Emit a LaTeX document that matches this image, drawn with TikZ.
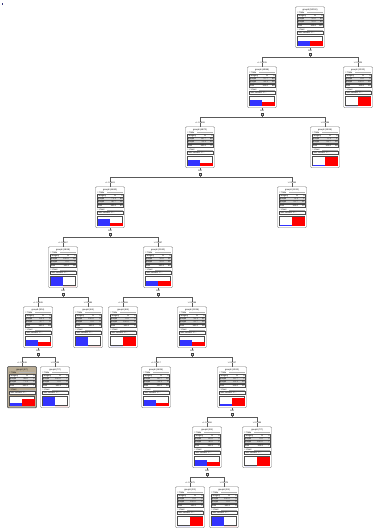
\documentclass[tikz,border=0pt]{standalone}
\usepackage{amssymb}
\usepackage{fontspec}
\setmainfont{Liberation Sans}
\usetikzlibrary{positioning}

\definecolor{barblue}{RGB}{51,51,255}
\definecolor{barred}{RGB}{255,0,0}
\definecolor{selfill}{RGB}{185,172,148}
\definecolor{rowgray}{RGB}{215,215,215}
\definecolor{framegray}{RGB}{120,120,120}

\tikzset{
  tbox/.style={draw=framegray, line width=1.1pt, rounded corners=3pt, fill=white,
    minimum width=2.9cm, minimum height=4.1cm, inner sep=0pt},
  ttext/.style={font=\fontsize{6}{6.5}\selectfont, inner sep=0pt},
  cellrow/.style={draw=gray!60!black, line width=0.4pt},
  icon/.style={draw=gray!50!black, fill=gray!35, minimum size=0.22cm, inner sep=0pt, line width=0.3pt},
  link/.style={draw=gray!70!black, line width=0.5pt},
  elabel/.style={ttext, fill=white, inner sep=0.4pt},
}

% tree node: [fill]{name}{x}{top}{title}{% blue}{n blue}{n red}{n}
\newcommand{\tnode}[9][white]{%
  \node[tbox, fill=#1, anchor=north] (#2) at (#3,#4) {};
  \begin{scope}[shift={(#3,#4)}]
    \pgfmathsetmacro\tnRp{100-#6}
    \pgfmathsetmacro\tnBh{9*#6/100}
    \pgfmathsetmacro\tnRh{9*\tnRp/100}
    \node[ttext] at (0,3) {#5};
    % --- table ---
    \node[ttext, anchor=west] at (-13,6) {$\triangledown$ Table};
    \draw[gray!60, line width=0.3pt] (-3,6) -- (13,6);
    \draw[cellrow, fill=white] (-13,8) rectangle (13,11);
    \draw[cellrow, fill=rowgray] (-13,11) rectangle (13,14);
    \draw[cellrow, fill=rowgray] (-13,14) rectangle (13,17);
    \draw[cellrow, fill=white] (-13,17.5) rectangle (13,20.5);
    \node[ttext, anchor=west] at (-12.5,9.5) {Category};
    \node[ttext, anchor=east] at (6,9.5) {\%};
    \node[ttext, anchor=east] at (12.5,9.5) {n};
    \node[ttext, anchor=west] at (-12.5,12.5) {group8};
    \node[ttext, anchor=east] at (6,12.5) {\pgfmathprintnumber[fixed,fixed zerofill,precision=1]{#6}};
    \node[ttext, anchor=east] at (12.5,12.5) {#7};
    \node[ttext, anchor=west] at (-12.5,15.5) {group9};
    \node[ttext, anchor=east] at (6,15.5) {\pgfmathprintnumber[fixed,fixed zerofill,precision=1]{\tnRp}};
    \node[ttext, anchor=east] at (12.5,15.5) {#8};
    \node[ttext, anchor=west] at (-12.5,19) {Total};
    \node[ttext, anchor=east] at (6,19) {100.0};
    \node[ttext, anchor=east] at (12.5,19) {#9};
    % --- chart ---
    \node[ttext, anchor=west] at (-13,23.3) {$\triangledown$ Chart};
    \draw[gray!60, line width=0.3pt] (-3,23.3) -- (13,23.3);
    \draw[cellrow, fill=white] (-13,25) rectangle (13,28);
    \node[ttext, anchor=west] at (-12.5,26.5) {Color column: C...};
    \draw[cellrow, line width=0.6pt, fill=white] (-12.5,29.5) rectangle (12.5,39);
    \fill[barblue] (-12.5,39) rectangle (0,39-\tnBh);
    \fill[barred] (0,39) rectangle (12.5,39-\tnRh);
  \end{scope}}

% split attribute under a node
\newcommand{\tsplit}[2]{%
  \node[ttext, below=0.25cm of #1] (#1-var) {#2};
  \node[icon, below=0.08cm of #1-var] (#1-ic) {};
  \draw[link] (#1.south) -- (#1-var.north);}

% connector parent -> child with condition
\newcommand{\tedge}[3]{%
  \draw[link] (#1-ic.south) -- ++(0,2.3) -| (#2.north);
  \node[elabel, above=0.3cm of #2] (#2-lab) {#3};}

\begin{document}
\begin{tikzpicture}[x=0.1cm, y=-0.1cm]
  \useasboundingbox (0,0) rectangle (373,529);

  % --- stray mark top left ---
  \fill[gray!60!blue!70!black] (2,2.7) rectangle (3.3,5.3);

  % --- nodes, level by level ---
  \tnode{n0}{310}{6.5}{group8 (50/100)}{50.0}{50}{50}{100}

  \tnode{n1}{262}{66.5}{group8 (49/88)}{55.7}{49}{39}{88}
  \tnode{n2}{358}{66.5}{group9 (12/12)}{0.0}{0}{12}{12}

  \tnode{n3}{200}{126.5}{group8 (48/72)}{66.7}{48}{24}{72}
  \tnode{n4}{325}{126.5}{group9 (15/16)}{6.3}{1}{15}{16}

  \tnode{n5}{110}{186.5}{group8 (44/60)}{73.3}{44}{16}{60}
  \tnode{n6}{292}{186.5}{group9 (11/12)}{8.3}{1}{11}{12}

  \tnode{n7}{63}{246.5}{group8 (18/18)}{100.0}{18}{0}{18}
  \tnode{n8}{158}{246.5}{group8 (21/42)}{50.0}{21}{21}{42}

  \tnode{n9}{38}{306.5}{group8 (9/14)}{64.3}{9}{5}{14}
  \tnode{n10}{88}{306.5}{group8 (4/4)}{100.0}{4}{0}{4}
  \tnode{n11}{123}{306.5}{group9 (6/6)}{0.0}{0}{6}{6}
  \tnode{n12}{192}{306.5}{group8 (21/36)}{58.3}{21}{15}{36}

  \tnode[selfill]{n13}{22}{366.5}{group9 (5/7)}{28.6}{2}{5}{7}
  \draw[gray!60!black, line width=1.4pt, rounded corners=3pt] (n13.north west) rectangle (n13.south east);
  \tnode{n14}{55}{366.5}{group8 (7/7)}{100.0}{7}{0}{7}
  \tnode{n15}{156}{366.5}{group8 (16/24)}{66.7}{16}{8}{24}
  \tnode{n16}{232}{366.5}{group9 (10/12)}{16.7}{2}{10}{12}

  \tnode{n17}{207}{426.5}{group8 (3/5)}{60.0}{3}{2}{5}
  \tnode{n18}{257}{426.5}{group9 (7/7)}{0.0}{0}{7}{7}

  \tnode{n19}{190}{486.5}{group9 (2/2)}{0.0}{0}{2}{2}
  \tnode{n20}{224}{486.5}{group8 (3/3)}{100.0}{3}{0}{3}

  % --- splits ---
  \tsplit{n0}{Cell}
  \tsplit{n1}{Cell}
  \tsplit{n3}{Cell}
  \tsplit{n5}{Cell}
  \tsplit{n7}{Cell}
  \tsplit{n8}{Cell}
  \tsplit{n9}{Cell}
  \tsplit{n12}{Cell}
  \tsplit{n16}{Cell}
  \tsplit{n17}{Cell}

  % --- connectors ---
  \tedge{n0}{n1}{{<}= 0.3205}
  \tedge{n0}{n2}{{>} 0.3205}
  \tedge{n1}{n3}{{<}= 0.2898}
  \tedge{n1}{n4}{{>} 0.2898}
  \tedge{n3}{n5}{{<}= 0.1463}
  \tedge{n3}{n6}{{>} 0.1463}
  \tedge{n5}{n7}{{<}= 0.5067}
  \tedge{n5}{n8}{{>} 0.5067}
  \tedge{n7}{n9}{{<}= 0.1345}
  \tedge{n7}{n10}{{>} 0.1345}
  \tedge{n8}{n11}{{<}= 0.2068}
  \tedge{n8}{n12}{{>} 0.2068}
  \tedge{n9}{n13}{{<}= 0.2548}
  \tedge{n9}{n14}{{>} 0.2548}
  \tedge{n12}{n15}{{<}= 0.2617}
  \tedge{n12}{n16}{{>} 0.2617}
  \tedge{n16}{n17}{{<}= 0.7466}
  \tedge{n16}{n18}{{>} 0.7466}
  \tedge{n17}{n19}{{<}= 0.1675}
  \tedge{n17}{n20}{{>} 0.1675}
\end{tikzpicture}
\end{document}
